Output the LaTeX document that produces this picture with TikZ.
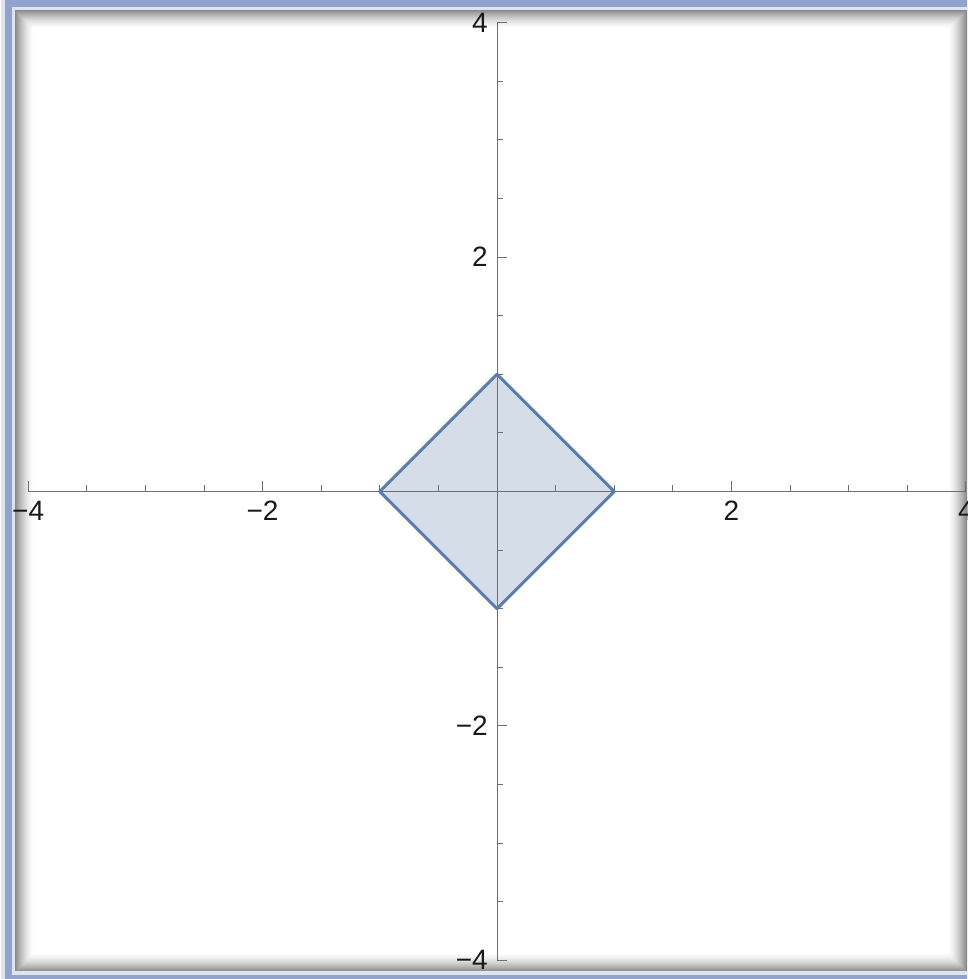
\documentclass[tikz,border=0pt]{standalone}
\usepackage{fontspec}
\setmainfont{Liberation Sans}
\definecolor{frameblue}{RGB}{145,163,205}
\definecolor{axisgray}{RGB}{110,110,110}
\definecolor{diamondline}{RGB}{92,124,174}
\definecolor{diamondfill}{RGB}{206,216,230}
\tikzset{
  axisline/.style={axisgray, line width=1pt},
  ticklabel/.style={font=\fontsize{28}{32}\selectfont, text=black!90, inner sep=0pt},
  diamondshape/.style={draw=diamondline, fill=diamondfill, line width=3pt, line join=round}
}
\begin{document}
\begin{tikzpicture}[x=1pt,y=1pt]
\useasboundingbox (0,0) rectangle (967,979);
\begin{scope}
\clip (0,0) rectangle (967,979);
\fill[white] (0,0) rectangle (967,979);
% inner shadow
\foreach \i in {0,...,21}{
  \pgfmathsetmacro{\k}{58*(1-\i/22)^1.6}
  \draw[line width=1.1pt, color=black!\k] (12.5+\i,4.5+\i) rectangle (969.5-\i,971.5-\i);
}
% frame
\draw[line width=14pt, color=frameblue!30] (7.5,0.5) rectangle (975,975.5);
\draw[line width=7pt, color=frameblue] (8.5,0.5) rectangle (975,975.5);
\end{scope}
% plot
\begin{scope}[shift={(497,487.5)}, x=117.2pt, y=117.2pt]
\coordinate (xl) at (-4,0);
\coordinate (xr) at (4,0);
\coordinate (yb) at (0,-4);
\coordinate (yt) at (0,4);
\draw[axisline] (xl) -- (xr);
\draw[axisline] (yb) -- (yt);
\foreach \k in {-8,...,8}{
  \pgfmathsetmacro{\v}{\k/2}
  \pgfmathtruncatemacro{\m}{mod(abs(\k),4)}
  \ifnum\m=0
    \draw[axisline] (\v,0) -- ++(0,10pt);
    \draw[axisline] (0,\v) -- ++(10pt,0);
  \else
    \draw[axisline] (\v,0) -- ++(0,6pt);
    \draw[axisline] (0,\v) -- ++(6pt,0);
  \fi
}
\node[ticklabel, anchor=north] (xm4) at ([yshift=-9.5pt]-4,0) {−4};
\node[ticklabel, anchor=north] (xm2) at ([yshift=-9.5pt]-2,0) {−2};
\node[ticklabel, anchor=north] (xp2) at ([yshift=-9.5pt]2,0) {2};
\node[ticklabel, anchor=north] (xp4) at ([yshift=-9.5pt]4,0) {4};
\node[ticklabel, anchor=east] (yp4) at ([xshift=-9pt]0,4) {4};
\node[ticklabel, anchor=east] (yp2) at ([xshift=-9pt]0,2) {2};
\node[ticklabel, anchor=east] (ym2) at ([xshift=-9pt]0,-2) {−2};
\node[ticklabel, anchor=east] (ym4) at ([xshift=-9pt]0,-4) {−4};
\fill[diamondfill, opacity=0.85] (1,0) -- (0,1) -- (-1,0) -- (0,-1) -- cycle;
\draw[axisline] (-1.2,0) -- (1.2,0);
\draw[axisline] (0,-1.2) -- (0,1.2);
\foreach \k in {-2,-1,1,2}{
  \pgfmathsetmacro{\v}{\k/2}
  \draw[axisline] (\v,0) -- ++(0,6pt);
  \draw[axisline] (0,\v) -- ++(6pt,0);
}
\draw[draw=diamondline, line width=3pt, line join=round] (1,0) -- (0,1) -- (-1,0) -- (0,-1) -- cycle;
\end{scope}
\end{tikzpicture}
\end{document}
